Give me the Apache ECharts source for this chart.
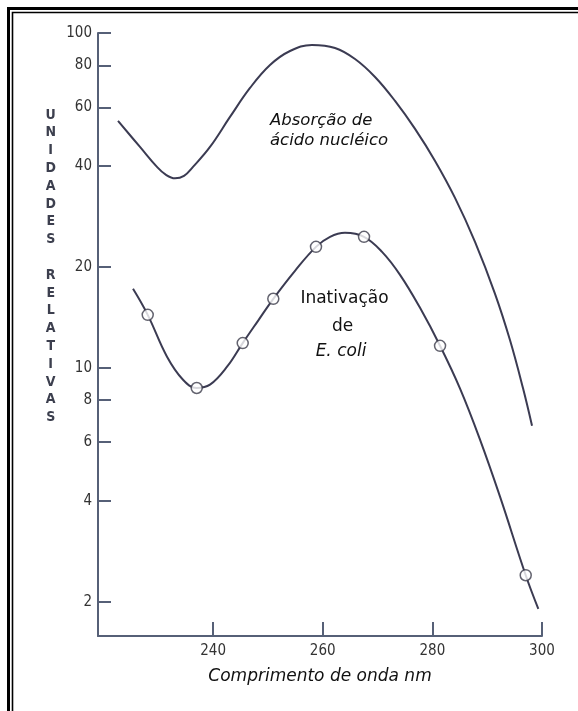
<!DOCTYPE html>
<html><head><meta charset="utf-8">
<script src="https://cdn.jsdelivr.net/npm/echarts@6/dist/echarts.min.js"></script>
<style>html,body{margin:0;padding:0;background:#fff}#c{width:578px;height:711px}</style>
</head><body><div id="c"></div>
<script>
// ---- data ----
const xTicks = [240, 260, 280, 300];
const yTicks = [2, 4, 6, 8, 10, 20, 40, 60, 80, 100];

const absorptionNm  = [222.65, 226.66, 229.76, 231.41, 233.05, 234.69, 236.33, 239.43, 243.08, 246.73, 250.38, 254.03, 258.04, 262.24, 265.89, 269.54, 273.19, 276.84, 280.49, 284.13, 287.78, 291.43, 294.17, 296.54, 298.18];
const absorptionVal = [54.62, 45.67, 39.81, 37.68, 36.79, 37.42, 39.81, 45.67, 56.14, 68.51, 80.25, 88.36, 92.09, 90.21, 83.63, 73.91, 62.68, 51.70, 41.48, 32.17, 23.77, 16.63, 12.08, 8.68, 6.71];

const inactCurveNm  = [225.39, 228.07, 231.59, 234.51, 237.01, 239.43, 242.54, 245.40, 248.19, 250.98, 254.94, 258.77, 261.33, 264.06, 267.53, 270.82, 274.10, 277.75, 281.40, 285.05, 288.69, 292.34, 297.03, 299.33];
const inactCurveVal = [17.21, 14.39, 10.79, 9.21, 8.70, 8.90, 10.07, 11.85, 13.81, 16.07, 19.48, 22.97, 24.61, 25.29, 24.61, 22.19, 18.95, 15.10, 11.63, 8.66, 6.10, 4.12, 2.40, 1.905];

const inactPointNm  = [228.07, 237.01, 245.40, 250.98, 258.77, 267.53, 281.40, 297.03];
const inactPointVal = [14.39, 8.70, 11.85, 16.07, 22.97, 24.61, 11.63, 2.40];

const yAxisTitle = 'UNIDADES RELATIVAS';
const xAxisTitle = 'Comprimento de onda nm';

// ---- chart ----
const L = v => Math.log10(v);
const pairs = (xs, ys) => xs.map((x, i) => [x, L(ys[i])]);
const axisColor = '#566077';
const lineColor = '#3b3b52';
const narrow = "'Liberation Sans Narrow','DejaVu Sans Condensed',sans-serif";

const chart = echarts.init(document.getElementById('c'));
chart.setOption({
  backgroundColor: '#ffffff',
  animation: false,
  grid: { left: 98, right: 36, top: 33, bottom: 75 },
  xAxis: {
    type: 'value', min: 219, max: 300,
    axisLine: { show: true, onZero: false, lineStyle: { color: axisColor, width: 2 } },
    axisTick: { show: true, inside: true, length: 14, customValues: xTicks, lineStyle: { color: axisColor, width: 2 } },
    axisLabel: { customValues: xTicks, margin: 8, color: '#333', fontFamily: narrow, fontSize: 15 },
    splitLine: { show: false },
    name: xAxisTitle, nameLocation: 'middle', nameGap: 32,
    nameTextStyle: { fontFamily: 'DejaVu Sans', fontStyle: 'italic', fontSize: 17, color: '#111' }
  },
  yAxis: {
    type: 'value', min: L(1.58), max: 2,
    axisLine: { show: true, onZero: false, lineStyle: { color: axisColor, width: 2 } },
    axisTick: { show: true, inside: true, length: 13, customValues: yTicks.map(L), lineStyle: { color: axisColor, width: 2 } },
    axisLabel: { customValues: yTicks.map(L), margin: 6, color: '#333', fontFamily: narrow, fontSize: 15,
      formatter: v => String(Math.round(Math.pow(10, v))) },
    splitLine: { show: false }
  },
  series: [
    { type: 'line', data: pairs(absorptionNm, absorptionVal), smooth: 0.4, symbol: 'none',
      lineStyle: { color: lineColor, width: 2 } },
    { type: 'line', data: pairs(inactCurveNm, inactCurveVal), smooth: 0.4, symbol: 'none',
      lineStyle: { color: lineColor, width: 2 } },
    { type: 'scatter', data: pairs(inactPointNm, inactPointVal), symbol: 'circle', symbolSize: 11, z: 5,
      itemStyle: { color: '#ffffff', borderColor: '#3b3b4a', borderWidth: 1.5 } }
  ],
  graphic: [
    { type: 'rect', silent: true, shape: { x: 8.5, y: 8.5, width: 700, height: 800 },
      style: { fill: 'none', stroke: '#000', lineWidth: 3 } },
    { type: 'rect', silent: true, shape: { x: 12.5, y: 12.5, width: 700, height: 800 },
      style: { fill: 'none', stroke: '#000', lineWidth: 1.6 } },
    { type: 'text', x: 50.7, y: 106, style: {
        text: yAxisTitle.split('').join('\n').replace('\n \n', '\n\n'),
        fontFamily: narrow, fontWeight: 'bold', fontSize: 14, lineHeight: 17.8,
        fill: '#3c3f4e', align: 'center', verticalAlign: 'top' } },
    { type: 'text', x: 270, y: 111, style: {
        text: 'Absorção de\nácido nucléico', fontFamily: 'DejaVu Sans', fontStyle: 'italic',
        fontSize: 16.5, lineHeight: 20, fill: '#111', align: 'left', verticalAlign: 'top' } },
    { type: 'text', x: 344.5, y: 299, style: {
        text: 'Inativação', fontFamily: 'DejaVu Sans', fontSize: 17, fill: '#111',
        align: 'center', verticalAlign: 'middle' } },
    { type: 'text', x: 342.7, y: 327, style: {
        text: 'de', fontFamily: 'DejaVu Sans', fontSize: 17, fill: '#111',
        align: 'center', verticalAlign: 'middle' } },
    { type: 'text', x: 341, y: 352, style: {
        text: 'E. coli', fontFamily: 'DejaVu Sans', fontStyle: 'italic', fontSize: 17, fill: '#111',
        align: 'center', verticalAlign: 'middle' } }
  ]
});
</script>
</body></html>
